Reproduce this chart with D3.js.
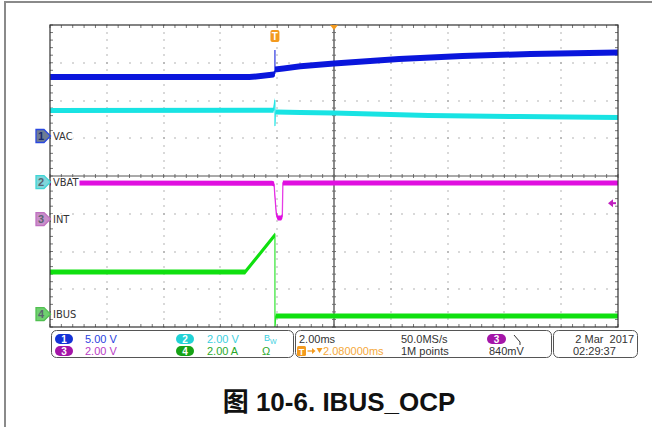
<!DOCTYPE html>
<html>
<head>
<meta charset="utf-8">
<script src="https://cdn.jsdelivr.net/npm/d3@7"></script>
<style>
body { margin: 0; background: #fff; }
svg { display: block; font-family: "Liberation Sans", Arial, sans-serif; }
</style>
</head>
<body>
<svg id="scope" width="661" height="427"></svg>
<script>
// time axis: ms relative to trigger, 2 ms/div, trigger delayed 2.08 ms from screen centre
var timeDomain = [-7.92, 12.08];

// channel setup (units per division, ground marker position in divisions)
var channelNames  = ["VAC", "VBAT", "INT", "IBUS"];
var channelScale  = [5, 2, 2, 2];
var channelUnits  = ["V", "V", "V", "A"];
var channelOffset = [1.06, -0.16, -1.14, -3.66];
var channelColors = ["#0a16dc", "#19e3e3", "#e010e0", "#10e010"];

// traces, [time ms, value]
var ch1Trace = [[-7.92, 7.8], [-0.9, 7.8], [-0.5, 7.95], [-0.05, 8.15], [0, 8.3], [0, 11.4], [0, 8.8],
                [0.3, 8.95], [0.9, 9.25], [2.08, 9.6], [4.37, 10.2], [6.6, 10.6], [9.0, 10.86], [12.08, 11.06]];
var ch2Trace = [[-7.92, 3.79], [-0.05, 3.8], [0, 4.35], [0, 2.97], [0.02, 3.71], [0.9, 3.68],
                [2.08, 3.66], [5.4, 3.53], [8.6, 3.47], [12.08, 3.42]];
var ch3Trace = [[-7.92, 1.91], [-0.1, 1.89], [-0.03, 1.85], [0, 1.2], [0.05, 0.25], [0.1, 0.05],
                [0.22, 0.05], [0.26, 0.15], [0.28, 1.91], [12.08, 1.91]];
var ch4Trace = [[-7.92, 2.23], [-1.05, 2.23], [0, 4.19], [0, -0.68], [0.03, -0.1], [12.08, -0.1]];

var triggerLevel = 0.84; // ch3, volts
var infoTexts = ["2.00ms", "50.0MS/s", "1M points", "840mV", "2.080000ms", "2 Mar  2017", "02:29:37"];
var caption = "图 10-6. IBUS_OCP";

var svg = d3.select("#scope");
var pLeft = 50, pRight = 618, pTop = 25, pBottom = 327;

var x = d3.scaleLinear().domain(timeDomain).range([pLeft, pRight]);
var gx = d3.scaleLinear().domain([0, 10]).range([pLeft, pRight]);
var y = d3.scaleLinear().domain([-4, 4]).range([pBottom, pTop]);

// outer frame (top + left only)
svg.append("line").attr("x1", 5).attr("x2", 652).attr("y1", 2).attr("y2", 2)
  .attr("stroke", "#8a8a8a").attr("stroke-width", 2);
svg.append("line").attr("x1", 5).attr("x2", 5).attr("y1", 1).attr("y2", 427)
  .attr("stroke", "#8a8a8a").attr("stroke-width", 2);

// graticule
var grid = svg.append("g");
var dots = [];
d3.range(1, 10).filter(function(k) { return k != 5; }).forEach(function(k) {
  d3.range(0, 41).forEach(function(m) { dots.push([gx(k), y(-4 + m / 5)]); });
});
d3.range(-3, 4).filter(function(j) { return j != 0; }).forEach(function(j) {
  d3.range(0, 51).forEach(function(m) { dots.push([gx(m / 5), y(j)]); });
});
grid.selectAll("rect.dot").data(dots).enter().append("rect")
  .attr("class", "dot")
  .attr("x", function(d) { return Math.round(d[0]) - 0.5; })
  .attr("y", function(d) { return Math.round(d[1]) - 0.5; })
  .attr("width", 1).attr("height", 1).attr("fill", "#6a6a6a");

var ticks = [];
d3.range(0, 51).forEach(function(m) {
  var xx = gx(m / 5);
  ticks.push([xx, pTop, xx, pTop + 3]);
  ticks.push([xx, pBottom, xx, pBottom - 3]);
  ticks.push([xx, y(0) - 2, xx, y(0) + 2]);
});
d3.range(0, 41).forEach(function(m) {
  var yy = y(-4 + m / 5);
  ticks.push([pLeft, yy, pLeft + 3, yy]);
  ticks.push([pRight, yy, pRight - 3, yy]);
  ticks.push([gx(5) - 2, yy, gx(5) + 2, yy]);
});
grid.selectAll("line.tick").data(ticks).enter().append("line")
  .attr("x1", function(d) { return d[0]; }).attr("y1", function(d) { return d[1]; })
  .attr("x2", function(d) { return d[2]; }).attr("y2", function(d) { return d[3]; })
  .attr("stroke", "#777").attr("stroke-width", 1);

grid.append("line").attr("x1", pLeft).attr("x2", pRight).attr("y1", y(0)).attr("y2", y(0))
  .attr("stroke", "#555").attr("stroke-width", 1);
grid.append("line").attr("x1", gx(5)).attr("x2", gx(5)).attr("y1", pTop).attr("y2", pBottom)
  .attr("stroke", "#666").attr("stroke-width", 1.5);

// traces
svg.append("clipPath").attr("id", "clip").append("rect")
  .attr("x", pLeft).attr("y", pTop).attr("width", pRight - pLeft).attr("height", pBottom - pTop);
var plot = svg.append("g").attr("clip-path", "url(#clip)");
var bandHalf = [3, 2.5, 2.5, 2.5];

function drawTrace(data, ch) {
  var yv = function(d) { return y(channelOffset[ch] + d[1] / channelScale[ch]); };
  var band = d3.area()
    .x(function(d) { return x(d[0]); })
    .y0(function(d) { return yv(d) - bandHalf[ch]; })
    .y1(function(d) { return yv(d) + bandHalf[ch]; });
  var line = d3.line().x(function(d) { return x(d[0]); }).y(yv);
  plot.append("path").attr("d", band(data)).attr("fill", channelColors[ch]);
  plot.append("path").attr("d", line(data)).attr("fill", "none")
    .attr("stroke", channelColors[ch]).attr("stroke-width", 1.3).attr("stroke-opacity", 0.8);
}
drawTrace(ch2Trace, 1);
drawTrace(ch1Trace, 0);
drawTrace(ch4Trace, 3);
drawTrace(ch3Trace, 2);

svg.append("rect").attr("x", pLeft).attr("y", pTop).attr("width", pRight - pLeft).attr("height", pBottom - pTop)
  .attr("fill", "none").attr("stroke", "#333").attr("stroke-width", 1.2);

// channel labels and ground markers
var markerFill = ["#6f7c93", "#7fd6da", "#c98fc9", "#6fcf6f"];
var markerEdge = ["#2a48e0", "#3fd6d6", "#c070c0", "#50c050"];
channelNames.forEach(function(name, i) {
  var my = y(channelOffset[i]);
  var lbl = svg.append("text").attr("x", 53).attr("y", my + 4)
    .attr("font-size", 11).attr("fill", "#333")
    .style("font-family", "'DejaVu Sans Condensed', 'Liberation Sans Narrow', sans-serif")
    .style("font-stretch", "condensed").text(name);
  var w = lbl.node().getComputedTextLength();
  svg.insert("rect", function() { return lbl.node(); })
    .attr("x", 51).attr("y", my - 5).attr("width", w + 3).attr("height", 10).attr("fill", "#fff");
  svg.append("path")
    .attr("d", "M36," + (my - 6.5) + "H44L50.5," + my + "L44," + (my + 6.5) + "H36Z")
    .attr("fill", markerFill[i]).attr("stroke", markerEdge[i]).attr("stroke-width", 1.3);
  svg.append("text").attr("x", 41).attr("y", my + 4).attr("text-anchor", "middle")
    .attr("font-size", 11).attr("font-weight", "bold").attr("fill", i == 0 ? "#1a2a70" : "#5a6470").text(i + 1);
});

// trigger markers
var tx = x(0);
svg.append("rect").attr("x", tx - 4.5).attr("y", 30).attr("width", 9).attr("height", 12).attr("rx", 2)
  .attr("fill", "#f39a1e");
svg.append("text").attr("x", tx).attr("y", 40).attr("text-anchor", "middle").attr("font-size", 10)
  .attr("font-weight", "bold").attr("fill", "#fff").text("T");
svg.append("path").attr("d", "M" + (gx(5) - 4) + "," + pTop + "H" + (gx(5) + 4) + "L" + gx(5) + "," + (pTop + 5) + "Z")
  .attr("fill", "#f39a1e");
var ty = y(channelOffset[2] + triggerLevel / channelScale[2]);
svg.append("path").attr("d", "M608," + ty + "L613," + (ty - 4) + "V" + (ty + 4) + "Z").attr("fill", "#c020c0");
svg.append("line").attr("x1", 612).attr("x2", 616).attr("y1", ty).attr("y2", ty).attr("stroke", "#c020c0").attr("stroke-width", 2);

// info bar
var bar = svg.append("g").attr("font-size", 11);
[[51, 293], [295, 551], [553, 637]].forEach(function(b) {
  bar.append("rect").attr("x", b[0] + 0.5).attr("y", 330.5).attr("width", b[1] - b[0]).attr("height", 27)
    .attr("rx", 5).attr("fill", "#fff").attr("stroke", "#555").attr("stroke-width", 1);
});
var badgeFill = ["#1433d6", "#21d2d6", "#a415a8", "#16a216"];
var badgePos = [[64, 339], [185, 339], [64, 351], [185, 351]];
var textColor = ["#2a3fe0", "#3ccfe0", "#b83cc4", "#2aa82a"];
var textPos = [[85, 343], [207, 343], [85, 355], [207, 355]];
channelScale.forEach(function(s, i) {
  bar.append("rect").attr("x", badgePos[i][0] - 9).attr("y", badgePos[i][1] - 5).attr("width", 18).attr("height", 10)
    .attr("rx", 5).attr("fill", badgeFill[i]);
  bar.append("text").attr("x", badgePos[i][0]).attr("y", badgePos[i][1] + 4).attr("text-anchor", "middle")
    .attr("font-size", 10).attr("font-weight", "bold").attr("fill", "#fff").text(i + 1);
  bar.append("text").attr("x", textPos[i][0]).attr("y", textPos[i][1]).attr("fill", textColor[i])
    .text(d3.format(".2f")(s) + " " + channelUnits[i]);
});
var bw = bar.append("text").attr("x", 264).attr("y", 341).attr("fill", "#3ccfe0").attr("font-size", 9);
bw.append("tspan").text("B");
bw.append("tspan").attr("dy", 3).attr("font-size", 7).text("W");
bar.append("text").attr("x", 262).attr("y", 355).attr("fill", "#2aa82a").text("Ω");

bar.append("text").attr("x", 299).attr("y", 343).attr("fill", "#333").text(infoTexts[0]);
bar.append("text").attr("x", 401).attr("y", 343).attr("fill", "#333").text(infoTexts[1]);
bar.append("text").attr("x", 401).attr("y", 355).attr("fill", "#333").text(infoTexts[2]);
bar.append("text").attr("x", 489).attr("y", 355).attr("fill", "#333").text(infoTexts[3]);
bar.append("rect").attr("x", 487).attr("y", 334).attr("width", 19).attr("height", 10).attr("rx", 5).attr("fill", badgeFill[2]);
bar.append("text").attr("x", 496.5).attr("y", 343).attr("text-anchor", "middle").attr("font-size", 10)
  .attr("font-weight", "bold").attr("fill", "#fff").text("3");
bar.append("path").attr("d", "M514,335L520,342L520,345").attr("fill", "none").attr("stroke", "#333").attr("stroke-width", 1);
// delay row
bar.append("rect").attr("x", 297).attr("y", 346).attr("width", 9).attr("height", 10).attr("rx", 1.5).attr("fill", "#f39a1e");
bar.append("text").attr("x", 301.5).attr("y", 354.5).attr("text-anchor", "middle").attr("font-size", 9)
  .attr("font-weight", "bold").attr("fill", "#fff").text("T");
bar.append("path").attr("d", "M307.5,351H313").attr("stroke", "#f39a1e").attr("stroke-width", 1.3);
bar.append("path").attr("d", "M312,348L315.5,351L312,354Z").attr("fill", "#f39a1e");
bar.append("path").attr("d", "M316.5,348H322.5L319.5,353Z").attr("fill", "#f39a1e");
bar.append("text").attr("x", 323).attr("y", 355).attr("fill", "#f5a83a").text(infoTexts[4]);
bar.append("text").attr("x", 634).attr("y", 343).attr("text-anchor", "end").attr("fill", "#333")
  .style("white-space", "pre").text(infoTexts[5]);
bar.append("text").attr("x", 573).attr("y", 355).attr("fill", "#333").text(infoTexts[6]);

// caption
svg.append("text").attr("x", 339).attr("y", 411).attr("text-anchor", "middle")
  .attr("font-size", 26).attr("font-weight", "bold").attr("fill", "#111")
  .style("font-family", "Arial, 'Liberation Sans', 'Noto Sans CJK SC', sans-serif")
  .text(caption);
</script>
</body>
</html>
